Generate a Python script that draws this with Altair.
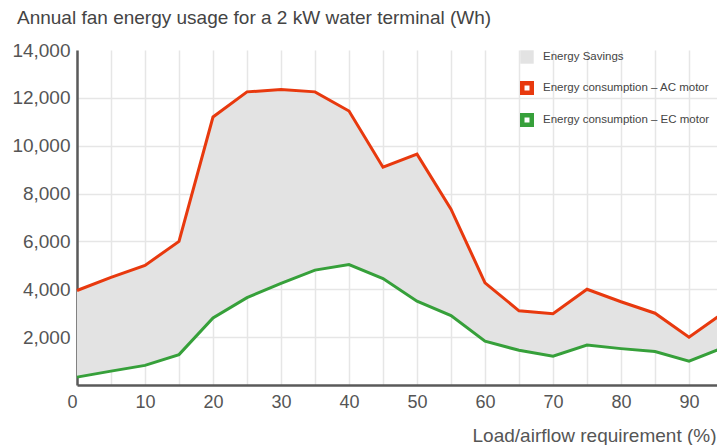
import altair as alt
import pandas as pd

load = [0, 5, 10, 15, 20, 25, 30, 35, 40, 45, 50, 55, 60, 65, 70, 75, 80, 85, 90, 95]
ac_motor = [3950, 4500, 5000, 6000, 11200, 12250, 12350, 12250, 11450, 9100,
            9650, 7350, 4270, 3100, 2980, 4000, 3480, 3000, 2000, 3000]
ec_motor = [330, 580, 820, 1270, 2800, 3650, 4250, 4800, 5030, 4450,
            3500, 2900, 1830, 1450, 1200, 1670, 1520, 1400, 1000, 1560]

AC = "Energy consumption \u2013 AC motor"
EC = "Energy consumption \u2013 EC motor"
SAV = "Energy Savings"

y_ticks = [2000, 4000, 6000, 8000, 10000, 12000, 14000]
x_ticks = list(range(0, 100, 5))

df = pd.DataFrame({"load": load, AC: ac_motor, EC: ec_motor})

FONT = "Liberation Sans"

x_enc = alt.X("load:Q",
              scale=alt.Scale(domain=[0, 95], nice=False),
              axis=alt.Axis(values=x_ticks,
                            labelExpr="datum.value % 10 === 0 ? datum.label : ''",
                            labelOffset={"condition": {"test": "datum.value === 0", "value": -10}, "value": 0},
                            ticks=False, labelPadding=8, labelFontSize=18,
                            labelColor="#555", labelFont=FONT,
                            domainColor="#5a5a5a", domainWidth=2.5,
                            gridColor="#e6e6e6", gridWidth=1.5,
                            title="Load/airflow requirement (%)",
                            titleAnchor="end", titleAlign="right",
                            titleBaseline="alphabetic", titleX=639, titleY=56,
                            titleFontSize=19, titleFontWeight="normal",
                            titleColor="#555", titleFont=FONT))

y_scale = alt.Scale(domain=[0, 14000], nice=False)
y_axis = alt.Axis(values=y_ticks, format=",.0f", ticks=False, labelPadding=7,
                  labelFontSize=19, labelColor="#555", labelFont=FONT,
                  domainColor="#5a5a5a", domainWidth=2.5,
                  gridColor="#e6e6e6", gridWidth=1.5,
                  gridOpacity={"condition": {"test": "datum.value === 14000", "value": 0}, "value": 1},
                  title=None)

area = alt.Chart(df).transform_calculate(kind=f"'{SAV}'").mark_area(opacity=1).encode(
    x=x_enc,
    y=alt.Y(f"{AC}:Q", scale=y_scale, axis=y_axis),
    y2=alt.Y2(f"{EC}:Q"),
    fill=alt.Fill("kind:N",
                  scale=alt.Scale(domain=[SAV], range=["#e3e3e3"]),
                  legend=alt.Legend(orient="none", legendX=443, legendY=0, title=None,
                                    symbolType="square", symbolSize=180,
                                    symbolStrokeWidth=0, labelFontSize=11.5,
                                    labelColor="#444", labelFont=FONT, labelLimit=300,
                                    labelOffset=9, padding=0)),
)

lines = alt.Chart(df).transform_fold([AC, EC], as_=["series", "value"]).mark_line(
    strokeWidth=3).encode(
    x=x_enc,
    y=alt.Y("value:Q", scale=y_scale, axis=y_axis),
    stroke=alt.Stroke("series:N",
                      scale=alt.Scale(domain=[AC, EC], range=["#e8390e", "#36a03a"]),
                      legend=alt.Legend(orient="none", legendX=443, legendY=31, title=None,
                                        symbolType="square", symbolSize=90,
                                        symbolStrokeWidth=4.5, symbolFillColor="white",
                                        rowPadding=4, labelFontSize=11.5,
                                        labelColor="#444", labelFont=FONT, labelLimit=300,
                                        labelOffset=9, padding=0)),
)

chart = alt.layer(area, lines).properties(
    width=646, height=335,
    autosize=alt.AutoSizeParams(type="none"),
    padding={"left": 69, "top": 42, "right": -6, "bottom": 60},
    title=alt.TitleParams("Annual fan energy usage for a 2 kW water terminal (Wh)",
                          anchor="start", frame="group", dx=-60, dy=25, offset=23,
                          baseline="alphabetic", fontSize=19, fontWeight="normal",
                          color="#444", font=FONT),
).resolve_scale(fill="independent", stroke="independent").configure_view(strokeWidth=0)

chart.save("out.html", embed_options={"renderer": "svg", "actions": False})
